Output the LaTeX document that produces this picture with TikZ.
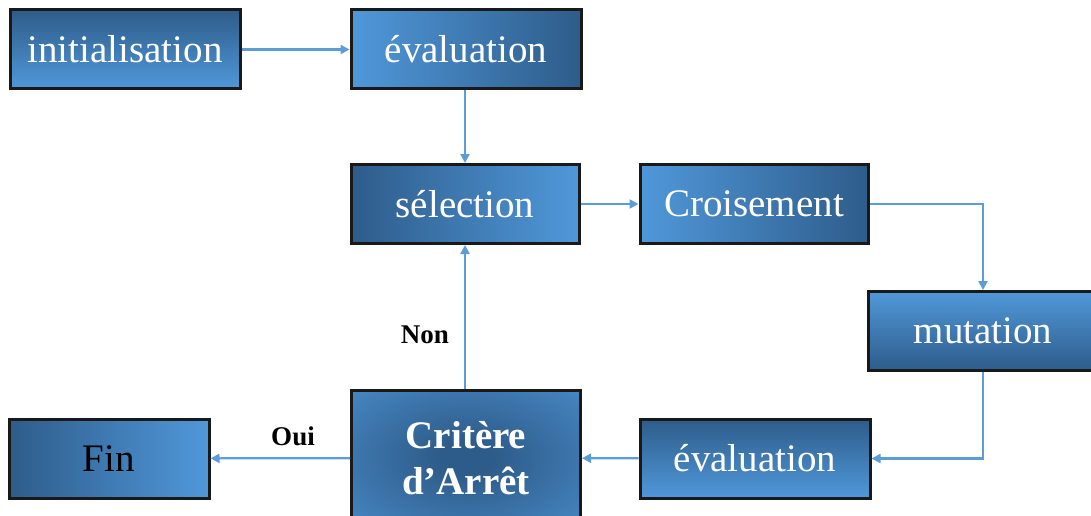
\documentclass[tikz,border=0pt]{standalone}
\usepackage{fontspec}
\setmainfont{Liberation Serif}
\usetikzlibrary{arrows.meta}
\definecolor{boxdark}{RGB}{46,92,138}
\definecolor{boxlight}{RGB}{80,152,218}
\definecolor{flow}{RGB}{92,157,216}
% dark centre fading to light towards the edges
\pgfdeclareradialshading{centredark}{\pgfpoint{0bp}{0bp}}{%
  color(0bp)=(boxdark); color(6bp)=(boxdark); color(48bp)=(boxlight); color(50bp)=(boxlight)}
\tikzset{
  stage/.style={draw=black!90, line width=3pt, minimum width=230pt, minimum height=79pt,
    inner sep=0pt, text=white, font=\fontsize{39}{44}\selectfont},
  downlight/.style={top color=boxdark, bottom color=boxlight},
  uplight/.style={top color=boxlight, bottom color=boxdark},
  leftlight/.style={left color=boxlight, right color=boxdark},
  rightlight/.style={left color=boxdark, right color=boxlight},
  flowarrow/.style={draw=flow, line width=2.2pt, -{Triangle[length=9pt,width=9pt]}},
  answer/.style={font=\bfseries\fontsize{27}{30}\selectfont, inner sep=0pt}
}
\begin{document}
\begin{tikzpicture}[x=1pt, y=-1pt]
  \clip (0,0) rectangle (1091,516);
  \fill[white] (0,0) rectangle (1091,516);

  % processing stages
  \node[stage, downlight]  (init)  at (125,49.5)  {initialisation};
  \node[stage, leftlight]  (eval1) at (466,49.5)  {évaluation};
  \node[stage, rightlight, minimum width=228pt] (sel) at (465,204) {sélection};
  \node[stage, leftlight, minimum width=228pt]  (cross) at (754,204) {Croisement};
  \node[stage, uplight]    (mut)   at (983,331)   {mutation};
  \node[stage, downlight]  (eval2) at (755,458.5) {évaluation};
  \node[stage, shading=centredark, minimum width=229pt,
        minimum height=136pt, align=center,
        font=\bfseries\fontsize{39}{46}\selectfont] (crit) at (466,458) {Critère\\d’Arrêt};
  \node[stage, rightlight, minimum width=200pt, text=black] (fin) at (109,458.5) {Fin};

  % flow between stages
  \draw[flowarrow] (init) -- (eval1);
  \draw[flowarrow] (eval1.south -| sel) -- (sel);
  \draw[flowarrow] (sel) -- (cross);
  \draw[flowarrow] (cross.east) -| (mut.north);
  \draw[flowarrow] (mut.south) |- (eval2.east);
  \draw[flowarrow] (eval2) -- (crit);
  \draw[flowarrow] (crit.north -| sel) -- (sel.south);
  \draw[flowarrow] (crit) -- (fin);

  % decision labels
  \node[answer] (non) at (425,335) {Non};
  \node[answer] (oui) at (293,436) {Oui};
\end{tikzpicture}
\end{document}
